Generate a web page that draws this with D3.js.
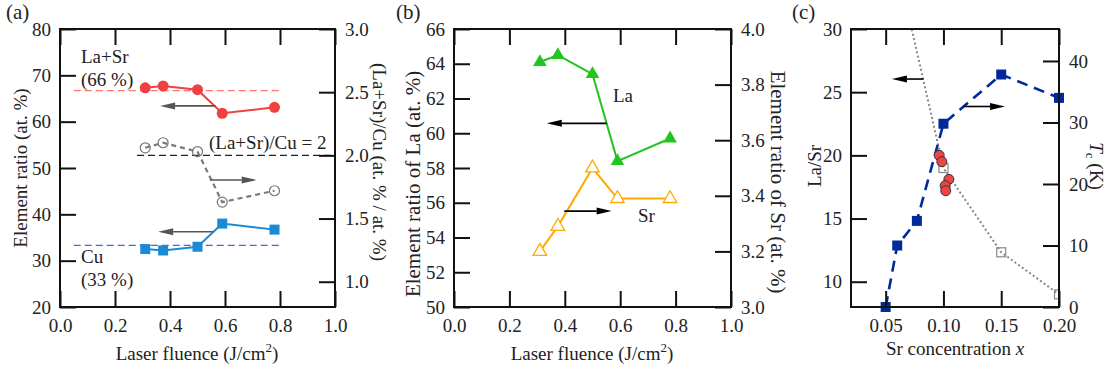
<!DOCTYPE html>
<html>
<head>
<meta charset="utf-8">
<script src="https://cdn.jsdelivr.net/npm/d3@7"></script>
<style>
  body { margin: 0; background: #fff; }
  svg, svg text { font-family: "Liberation Serif", "Times New Roman", Times, serif; fill: #222; }
</style>
</head>
<body>
<script>
// ---- data ----
// (a), (b): laser fluence in J/cm^2
const fluence = [0.31, 0.375, 0.50, 0.59, 0.78];
const laSrPct = [67.3, 67.7, 66.9, 61.8, 63.1];   // La+Sr at. %
const cuPct = [32.5, 32.2, 33.0, 38.0, 36.7];     // Cu at. %
const laSrCu = [2.06, 2.10, 2.03, 1.63, 1.72];    // (La+Sr)/Cu, right axis
const laPct = [64.1, 64.5, 63.4, 58.4, 59.7];     // La at. %
const srPct = [3.20, 3.29, 3.50, 3.39, 3.39];     // Sr at. %, right axis

// (c): Sr concentration x
const tcX = [0.05, 0.06, 0.077, 0.10, 0.15, 0.20];
const tcK = [0, 10, 14, 29.8, 37.8, 34.0];
const nominalX = [0.05, 0.10, 0.15, 0.20];
const nominalLaSr = [39, 19, 12.33, 9];
const filmX = [0.0963, 0.0986, 0.1047, 0.1015, 0.102];
const filmLaSr = [20.0, 19.5, 18.1, 17.6, 17.2];

// tick labels
const fluenceTicks = [0, 0.2, 0.4, 0.6, 0.8, 1.0];
const pctTicksA = [20, 30, 40, 50, 60, 70, 80];
const ratioTicksA = [1.0, 1.5, 2.0, 2.5, 3.0];
const laTicks = [50, 52, 54, 56, 58, 60, 62, 64, 66];
const srTicks = [3.0, 3.2, 3.4, 3.6, 3.8, 4.0];
const xTicksC = [0.05, 0.10, 0.15, 0.20];
const laSrTicks = [10, 15, 20, 25, 30];
const tcTicks = [0, 10, 20, 30, 40];

const W = 1115, H = 376;
const yTop = 29, yBot = 307;
const FS = 19;
const SERIF = '"Liberation Serif", "Times New Roman", Times, serif';

const svg = d3.select("body").append("svg")
    .attr("width", W)
    .attr("height", H)
    .style("font-family", SERIF);

// frame + inward ticks on all four sides
function axes(g, x, yL, yR, o) {
    let x0 = x.range()[0], x1 = x.range()[1];
    g.append("g").attr("transform", `translate(0,${yBot})`)
        .call(d3.axisBottom(x).tickValues(o.xTicks).tickSize(-16).tickPadding(12).tickFormat(o.xFmt));
    g.append("g").attr("transform", `translate(0,${yTop})`)
        .call(d3.axisTop(x).tickValues(o.xTicks).tickSize(-16).tickFormat(""));
    g.append("g").attr("transform", `translate(${x0},0)`)
        .call(d3.axisLeft(yL).tickValues(o.lTicks).tickSize(-16).tickPadding(9).tickFormat(o.lFmt));
    g.append("g").attr("transform", `translate(${x1},0)`)
        .call(d3.axisRight(yR).tickValues(o.rTicks).tickSize(-16).tickPadding(10).tickFormat(o.rFmt));
    g.selectAll(".domain").remove();
    g.selectAll("g").attr("font-family", null).attr("font-size", null);
    g.selectAll(".tick line").attr("stroke", "#111").attr("stroke-width", 2);
    g.selectAll(".tick text")
        .style("font-family", SERIF)
        .style("font-size", FS + "px").attr("fill", "#222");
    g.append("rect")
        .attr("x", x0).attr("y", yTop)
        .attr("width", x1 - x0).attr("height", yBot - yTop)
        .attr("fill", "none").attr("stroke", "#111").attr("stroke-width", 2);
}

function arrow(g, x1, y1, x2, y2, color) {
    let a = Math.atan2(y2 - y1, x2 - x1), L = 15, hw = 3.5;
    let bx = x2 - L * Math.cos(a), by = y2 - L * Math.sin(a);
    g.append("line")
        .attr("x1", x1).attr("y1", y1).attr("x2", bx).attr("y2", by)
        .attr("stroke", color).attr("stroke-width", 1.6);
    g.append("path")
        .attr("d", `M${x2},${y2}L${bx - hw * Math.sin(a)},${by + hw * Math.cos(a)}L${bx + hw * Math.sin(a)},${by - hw * Math.cos(a)}Z`)
        .attr("fill", color);
}

function vLabel(x, y, rot, size, txt) {
    return svg.append("text")
        .attr("transform", `translate(${x},${y}) rotate(${rot})`)
        .attr("text-anchor", "middle")
        .style("font-size", size + "px")
        .text(txt);
}

function note(g, x, y, txt) {
    g.append("text").attr("x", x).attr("y", y).style("font-size", FS + "px").text(txt);
}

function fluenceLabel(cx) {
    let t = svg.append("text").attr("x", cx).attr("y", 360)
        .attr("text-anchor", "middle").style("font-size", FS + "px");
    t.append("tspan").text("Laser fluence (J/cm");
    t.append("tspan").attr("dy", -8).style("font-size", "13px").text("2");
    t.append("tspan").attr("dy", 8).text(")");
}

const f1 = d3.format(".1f");

// =============== (a) ===============
let ga = svg.append("g");
let xa = d3.scaleLinear().domain([0, 1]).range([60, 335]);
let ya = d3.scaleLinear().domain([20, 80]).range([yBot, yTop]);
let ya2 = d3.scaleLinear().domain([0.8, 3.0]).range([yBot, yTop]);
let pa = fluence.map((f, i) => i);

// reference lines
ga.append("line").attr("x1", xa(0.05)).attr("x2", xa(0.8))
    .attr("y1", ya(66.7)).attr("y2", ya(66.7))
    .attr("stroke", "#ff7373").attr("stroke-width", 1.4).attr("stroke-dasharray", "7,4");
ga.append("line").attr("x1", xa(0.05)).attr("x2", xa(0.8))
    .attr("y1", ya(33.3)).attr("y2", ya(33.3))
    .attr("stroke", "#3a68f0").attr("stroke-width", 1.4).attr("stroke-dasharray", "7,4");
ga.append("line").attr("x1", xa(0.28)).attr("x2", xa(1.0))
    .attr("y1", ya2(2.0)).attr("y2", ya2(2.0))
    .attr("stroke", "#222").attr("stroke-width", 1.4).attr("stroke-dasharray", "7,4");

// La+Sr
ga.append("path").datum(pa)
    .attr("fill", "none").attr("stroke", "#f04040").attr("stroke-width", 2)
    .attr("d", d3.line().x(i => xa(fluence[i])).y(i => ya(laSrPct[i])));
ga.selectAll(".lasr").data(pa).enter().append("circle")
    .attr("cx", i => xa(fluence[i])).attr("cy", i => ya(laSrPct[i]))
    .attr("r", 5.5).attr("fill", "#f04040");

// (La+Sr)/Cu
ga.append("path").datum(pa)
    .attr("fill", "none").attr("stroke", "#7a7a7a").attr("stroke-width", 2.2)
    .attr("stroke-dasharray", "5,4")
    .attr("d", d3.line().x(i => xa(fluence[i])).y(i => ya2(laSrCu[i])));
ga.selectAll(".ratio").data(pa).enter().append("circle")
    .attr("cx", i => xa(fluence[i])).attr("cy", i => ya2(laSrCu[i]))
    .attr("r", 5).attr("fill", "none").attr("stroke", "#777").attr("stroke-width", 1.2);

// Cu
ga.append("path").datum(pa)
    .attr("fill", "none").attr("stroke", "#1a8ad4").attr("stroke-width", 2)
    .attr("d", d3.line().x(i => xa(fluence[i])).y(i => ya(cuPct[i])));
ga.selectAll(".cu").data(pa).enter().append("rect")
    .attr("x", i => xa(fluence[i]) - 5).attr("y", i => ya(cuPct[i]) - 5)
    .attr("width", 10).attr("height", 10).attr("fill", "#1a8ad4");

arrow(ga, xa(0.565), ya(63.4), xa(0.364), ya(63.4), "#555");
arrow(ga, xa(0.545), ya2(1.805), xa(0.715), ya2(1.805), "#555");
arrow(ga, xa(0.558), ya(36.25), xa(0.357), ya(36.25), "#555");

axes(ga, xa, ya, ya2, {
    xTicks: fluenceTicks, xFmt: f1,
    lTicks: pctTicksA, lFmt: d3.format("d"),
    rTicks: ratioTicksA, rFmt: f1
});

note(ga, 81, 63, "La+Sr");
note(ga, 81, 86, "(66 %)");
note(ga, 209, 149, "(La+Sr)/Cu = 2");
note(ga, 81, 263, "Cu");
note(ga, 81, 286, "(33 %)");

svg.append("text").attr("x", 6).attr("y", 19).style("font-size", "21px").text("(a)");
vLabel(27, 168, -90, FS, "Element ratio (at. %)");
vLabel(373, 162, 90, FS, "(La+Sr)/Cu (at. % / at. %)");
fluenceLabel(197);

// =============== (b) ===============
let gb = svg.append("g");
let xb = d3.scaleLinear().domain([0, 1]).range([454, 731]);
let yb = d3.scaleLinear().domain([50, 66]).range([yBot, yTop]);
let yb2 = d3.scaleLinear().domain([3.0, 4.0]).range([yBot, yTop]);
let tri = d3.symbol().type(d3.symbolTriangle).size(80);

gb.append("path").datum(pa)
    .attr("fill", "none").attr("stroke", "#22c41e").attr("stroke-width", 2)
    .attr("d", d3.line().x(i => xb(fluence[i])).y(i => yb(laPct[i])));
gb.selectAll(".la").data(pa).enter().append("path")
    .attr("transform", i => `translate(${xb(fluence[i])},${yb(laPct[i])})`)
    .attr("d", tri).attr("fill", "#22c41e");

gb.append("path").datum(pa)
    .attr("fill", "none").attr("stroke", "#ffaa00").attr("stroke-width", 2)
    .attr("d", d3.line().x(i => xb(fluence[i])).y(i => yb2(srPct[i])));
gb.selectAll(".sr").data(pa).enter().append("path")
    .attr("transform", i => `translate(${xb(fluence[i])},${yb2(srPct[i])})`)
    .attr("d", tri).attr("fill", "#fff").attr("stroke", "#ffaa00").attr("stroke-width", 1.3);

arrow(gb, xb(0.551), yb(60.57), xb(0.335), yb(60.57), "#000");
arrow(gb, xb(0.398), yb2(3.345), xb(0.569), yb2(3.345), "#000");

axes(gb, xb, yb, yb2, {
    xTicks: fluenceTicks, xFmt: f1,
    lTicks: laTicks, lFmt: d3.format("d"),
    rTicks: srTicks, rFmt: f1
});

note(gb, 613, 102, "La");
note(gb, 638, 222, "Sr");

svg.append("text").attr("x", 396).attr("y", 19).style("font-size", "21px").text("(b)");
vLabel(420, 184, -90, 21, "Element ratio of La (at. %)");
vLabel(771, 182, 90, 21, "Element ratio of Sr (at. %)");
fluenceLabel(592);

// =============== (c) ===============
let gc = svg.append("g");
let xc = d3.scaleLinear().domain([0.02, 0.20]).range([851, 1059]);
let yc = d3.scaleLinear().domain([8, 30]).range([yBot, yTop]);
let yc2 = d3.scaleLinear().domain([0, 45.2]).range([yBot, yTop]);

svg.append("clipPath").attr("id", "clipc")
    .append("rect").attr("x", 851).attr("y", yTop).attr("width", 208).attr("height", yBot - yTop);

// nominal La/Sr (dotted) - clipped at the frame
let gcc = gc.append("g").attr("clip-path", "url(#clipc)");
gcc.append("path").datum(nominalX.map((d, i) => i))
    .attr("fill", "none").attr("stroke", "#888").attr("stroke-width", 2)
    .attr("stroke-dasharray", "2,2.5")
    .attr("d", d3.line().x(i => xc(nominalX[i])).y(i => yc(nominalLaSr[i])));
gcc.selectAll(".nom").data(nominalX.map((d, i) => i).slice(1)).enter().append("rect")
    .attr("x", i => xc(nominalX[i]) - 4.5).attr("y", i => yc(nominalLaSr[i]) - 4.5)
    .attr("width", 9).attr("height", 9)
    .attr("fill", "none").attr("stroke", "#888").attr("stroke-width", 1.2);

// Tc
gc.append("path").datum(tcX.map((d, i) => i))
    .attr("fill", "none").attr("stroke", "#00299a").attr("stroke-width", 2.6)
    .attr("stroke-dasharray", "11,7")
    .attr("d", d3.line().x(i => xc(tcX[i])).y(i => yc2(tcK[i])));
gc.selectAll(".tc").data(tcX.map((d, i) => i)).enter().append("rect")
    .attr("x", i => xc(tcX[i]) - 5).attr("y", i => yc2(tcK[i]) - 5)
    .attr("width", 10).attr("height", 10).attr("fill", "#00299a");

// films La/Sr
gc.selectAll(".film").data(filmX.map((d, i) => i)).enter().append("circle")
    .attr("cx", i => xc(filmX[i])).attr("cy", i => yc(filmLaSr[i]))
    .attr("r", 5).attr("fill", "#f04444").attr("stroke", "#333").attr("stroke-width", 1);

arrow(gc, xc(0.0827), yc(26.04), xc(0.0554), yc(26.04), "#000");
arrow(gc, xc(0.1173), yc2(32.6), xc(0.1533), yc2(32.6), "#000");

axes(gc, xc, yc, yc2, {
    xTicks: xTicksC, xFmt: d3.format(".2f"),
    lTicks: laSrTicks, lFmt: d3.format("d"),
    rTicks: tcTicks, rFmt: d3.format("d")
});

svg.append("text").attr("x", 792).attr("y", 19).style("font-size", "21px").text("(c)");
vLabel(821, 166, -90, FS, "La/Sr");
let tcl = svg.append("text")
    .attr("transform", "translate(1090,166) rotate(90)")
    .attr("text-anchor", "middle").style("font-size", FS + "px");
tcl.append("tspan").style("font-style", "italic").text("T");
tcl.append("tspan").attr("dy", 4).style("font-size", "13px").text("c");
tcl.append("tspan").attr("dy", -4).text(" (K)");

let xl = svg.append("text").attr("x", 955).attr("y", 355)
    .attr("text-anchor", "middle").style("font-size", FS + "px");
xl.append("tspan").text("Sr concentration ");
xl.append("tspan").style("font-style", "italic").text("x");
</script>
</body>
</html>
